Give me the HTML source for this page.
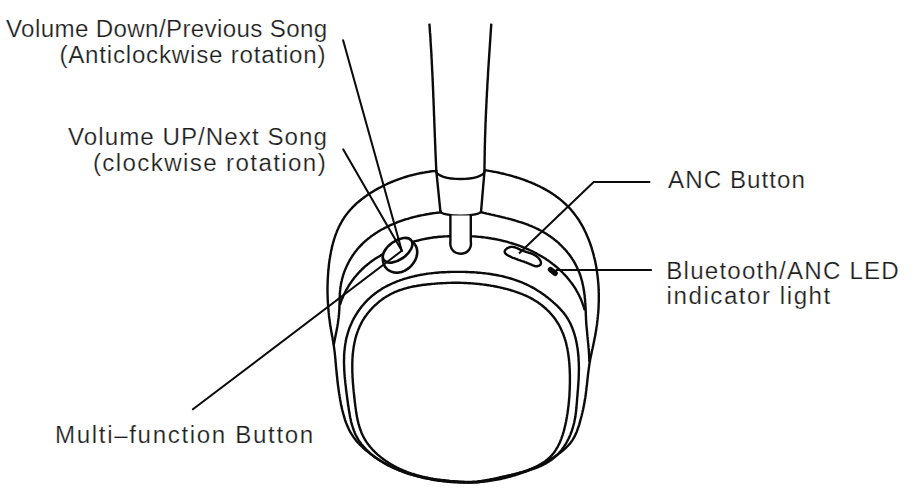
<!DOCTYPE html>
<html><head><meta charset="utf-8"><style>
html,body{margin:0;padding:0;background:#fff;width:920px;height:492px;overflow:hidden;}
svg{display:block;}
text{font-family:"Liberation Sans",sans-serif;font-size:23.0px;fill:#1e1e1e;stroke:#fff;stroke-width:0.2px;}
</style></head><body>
<svg width="920" height="492" viewBox="0 0 920 492">
<rect width="920" height="492" fill="#fff"/>
<g fill="none" stroke="#0b0b0b" stroke-width="2.4" stroke-linecap="round" stroke-linejoin="round">
<path d="M429.4,23.6 L429.5,25.1 L429.6,26.6 L429.7,28.1 L429.8,29.7 L429.9,31.2 L430.0,32.7 L430.2,34.2 L430.3,35.7 L430.4,37.2 L430.5,38.8 L430.5,40.3 L430.6,41.8 L430.7,43.3 L430.8,44.8 L430.9,46.3 L431.0,47.9 L431.1,49.4 L431.2,50.9 L431.3,52.4 L431.4,53.9 L431.4,55.4 L431.5,57.0 L431.6,58.5 L431.7,60.0 L431.8,61.5 L431.8,63.0 L431.9,64.5 L432.0,66.1 L432.1,67.6 L432.1,69.1 L432.2,70.6 L432.3,72.1 L432.4,73.6 L432.4,75.2 L432.5,76.7 L432.6,78.2 L432.6,79.7 L432.7,81.2 L432.8,82.8 L432.8,84.3 L432.9,85.8 L433.0,87.3 L433.0,88.8 L433.1,90.3 L433.2,91.9 L433.2,93.4 L433.3,94.9 L433.3,96.4 L433.4,97.9 L433.5,99.4 L433.5,101.0 L433.6,102.5 L433.6,104.0 L433.7,105.5 L433.8,107.0 L433.8,108.6 L433.9,110.1 L433.9,111.6 L434.0,113.1 L434.0,114.6 L434.1,116.2 L434.2,117.7 L434.2,119.2 L434.3,120.7 L434.3,122.2 L434.4,123.7 L434.4,125.3 L434.5,126.8 L434.6,128.3 L434.6,129.8 L434.7,131.3 L434.7,132.9 L434.8,134.4 L434.8,135.9 L434.9,137.4 L435.0,138.9 L435.0,140.4 L435.1,142.0 L435.1,143.5 L435.2,145.0 L435.3,146.5 L435.3,148.0 L435.4,149.6 L435.4,151.1 L435.5,152.6 L435.6,154.1 L435.6,155.6 L435.7,157.1 L435.8,158.7 L435.8,160.2 L435.9,161.7 L436.0,163.2 L436.0,164.7 L436.1,166.2 L436.2,167.8 L436.2,169.3 L436.3,170.8" stroke-linecap="butt"/>
<path d="M491.3,23.6 L491.2,25.1 L491.1,26.6 L491.0,28.1 L490.9,29.7 L490.8,31.2 L490.7,32.7 L490.6,34.2 L490.5,35.7 L490.4,37.2 L490.3,38.8 L490.2,40.3 L490.1,41.8 L490.0,43.3 L489.9,44.8 L489.8,46.3 L489.7,47.9 L489.6,49.4 L489.5,50.9 L489.4,52.4 L489.3,53.9 L489.2,55.4 L489.1,57.0 L489.0,58.5 L488.9,60.0 L488.8,61.5 L488.7,63.0 L488.6,64.5 L488.5,66.1 L488.4,67.6 L488.3,69.1 L488.2,70.6 L488.1,72.1 L488.0,73.6 L488.0,75.2 L487.9,76.7 L487.8,78.2 L487.7,79.7 L487.6,81.2 L487.5,82.7 L487.4,84.3 L487.3,85.8 L487.3,87.3 L487.2,88.8 L487.1,90.3 L487.0,91.8 L486.9,93.4 L486.9,94.9 L486.8,96.4 L486.7,97.9 L486.6,99.4 L486.5,100.9 L486.5,102.5 L486.4,104.0 L486.3,105.5 L486.3,107.0 L486.2,108.5 L486.1,110.0 L486.0,111.6 L486.0,113.1 L485.9,114.6 L485.8,116.1 L485.8,117.6 L485.7,119.2 L485.7,120.7 L485.6,122.2 L485.5,123.7 L485.5,125.2 L485.4,126.7 L485.4,128.3 L485.3,129.8 L485.3,131.3 L485.2,132.8 L485.2,134.3 L485.1,135.9 L485.1,137.4 L485.0,138.9 L485.0,140.4 L485.0,141.9 L484.9,143.5 L484.9,145.0 L484.8,146.5 L484.8,148.0 L484.8,149.5 L484.7,151.0 L484.7,152.6 L484.7,154.1 L484.7,155.6 L484.6,157.1 L484.6,158.6 L484.6,160.2 L484.6,161.7 L484.6,163.2 L484.5,164.7 L484.5,166.2 L484.5,167.8 L484.5,169.3 L484.5,170.8" stroke-linecap="butt"/>
<path d="M436.3,170.8 L434.8,171.0 L433.3,171.1 L431.7,171.3 L430.2,171.5 L428.7,171.8 L427.2,172.0 L425.7,172.2 L424.3,172.5 L422.8,172.7 L421.3,173.0 L419.8,173.3 L418.4,173.6 L416.9,173.9 L415.5,174.3 L414.0,174.6 L412.6,175.0 L411.1,175.3 L409.7,175.7 L408.3,176.1 L406.9,176.5 L405.4,177.0 L404.0,177.4 L402.6,177.9 L401.2,178.3 L399.8,178.8 L398.4,179.3 L397.0,179.8 L395.6,180.4 L394.3,180.9 L392.9,181.5 L391.5,182.0 L390.1,182.6 L388.7,183.2 L387.4,183.8 L386.0,184.5 L384.6,185.1 L383.3,185.8 L381.9,186.5 L380.6,187.2 L379.2,187.9 L377.9,188.6 L376.5,189.4 L375.2,190.1 L373.9,190.9 L372.6,191.7 L371.3,192.5 L370.0,193.3 L368.7,194.1 L367.4,195.0 L366.2,195.9 L364.9,196.8 L363.7,197.7 L362.5,198.6 L361.3,199.5 L360.1,200.5 L358.9,201.5 L357.8,202.4 L356.6,203.4 L355.5,204.5 L354.4,205.5 L353.3,206.6 L352.3,207.6 L351.3,208.7 L350.3,209.8 L349.3,211.0 L348.3,212.1 L347.4,213.3 L346.5,214.4 L345.6,215.6 L344.7,216.8 L343.9,218.1 L343.1,219.3 L342.3,220.6 L341.6,221.9 L340.9,223.1 L340.2,224.4 L339.5,225.8 L338.8,227.1 L338.2,228.5 L337.6,229.8 L337.0,231.2 L336.5,232.6 L335.9,234.0 L335.4,235.4 L334.9,236.8 L334.5,238.2 L334.0,239.6 L333.6,241.1 L333.2,242.5 L332.8,244.0 L332.4,245.5 L332.0,246.9 L331.7,248.4 L331.4,249.9 L331.0,251.4 L330.8,252.9 L330.5,254.4 L330.2,255.9 L330.0,257.4 L329.7,258.9 L329.5,260.4 L329.3,261.9 L329.1,263.4 L328.9,264.9 L328.8,266.5 L328.6,268.0 L328.5,269.5 L328.3,271.0 L328.2,272.5 L328.1,274.0 L328.0,275.5 L327.9,277.0 L327.8,278.5 L327.7,280.0 L327.7,281.5 L327.6,283.0 L327.6,284.6 L327.5,286.1 L327.5,287.6 L327.5,289.0 L327.5,290.5 L327.5,292.0 L327.5,293.5 L327.6,295.0 L327.6,296.5 L327.7,298.0 L327.7,299.5 L327.8,301.0 L327.9,302.5 L328.0,304.0 L328.1,305.5 L328.2,307.0 L328.3,308.5 L328.4,310.0 L328.6,311.4 L328.7,312.9 L328.9,314.4 L329.0,315.9 L329.2,317.4 L329.4,318.9 L329.6,320.4 L329.8,321.9 L330.0,323.3 L330.2,324.8 L330.4,326.3 L330.7,327.8 L330.9,329.3 L331.2,330.8 L331.5,332.3 L331.7,333.8 L332.0,335.2 L332.3,336.7 L332.6,338.2 L332.8,339.7 L333.1,341.2 L333.3,342.7 L333.6,344.2 L333.8,345.7 L334.0,347.2 L334.2,348.7 L334.4,350.2 L334.6,351.6 L334.8,353.1 L334.9,354.6 L335.1,356.1 L335.2,357.6 L335.4,359.1 L335.5,360.6 L335.6,362.1 L335.8,363.6 L335.9,365.1 L336.0,366.6 L336.2,368.1 L336.3,369.6 L336.5,371.1 L336.6,372.6 L336.7,374.0 L336.9,375.5 L337.1,377.0 L337.2,378.5 L337.4,380.0 L337.5,381.5 L337.7,383.0 L337.9,384.5 L338.1,386.0 L338.3,387.4 L338.5,388.9 L338.7,390.4 L338.9,391.9 L339.1,393.4 L339.4,394.9 L339.6,396.4 L339.9,397.9 L340.1,399.4 L340.4,400.9 L340.7,402.4 L340.9,403.9 L341.2,405.4 L341.6,406.9 L341.9,408.4 L342.2,409.8 L342.6,411.3 L343.0,412.8 L343.4,414.3 L343.8,415.7 L344.2,417.2 L344.7,418.6 L345.1,420.1 L345.6,421.5 L346.1,422.9 L346.7,424.3 L347.3,425.7 L347.9,427.1 L348.5,428.4 L349.1,429.8 L349.8,431.1 L350.5,432.4 L351.3,433.7 L352.1,434.9 L352.9,436.2 L353.7,437.4 L354.6,438.6 L355.5,439.8 L356.5,441.0 L357.5,442.1 L358.5,443.2 L359.5,444.3 L360.6,445.4 L361.7,446.4 L362.8,447.5 L363.9,448.5 L365.0,449.5 L366.2,450.5 L367.3,451.4 L368.5,452.4 L369.7,453.3 L370.8,454.2 L372.0,455.1 L373.2,456.0 L374.5,456.9 L375.7,457.7 L376.9,458.6 L378.2,459.4 L379.4,460.2 L380.7,461.0 L382.0,461.7 L383.3,462.5 L384.6,463.2 L385.9,463.9 L387.2,464.7 L388.5,465.3 L389.9,466.0 L391.2,466.7 L392.6,467.3 L393.9,468.0 L395.3,468.6 L396.7,469.2 L398.1,469.8 L399.4,470.4 L400.8,470.9 L402.2,471.5 L403.6,472.0 L405.1,472.5 L406.5,473.0 L407.9,473.5 L409.3,474.0 L410.8,474.4 L412.2,474.9 L413.7,475.3 L415.1,475.7 L416.6,476.1 L418.0,476.5 L419.5,476.9 L421.0,477.3 L422.4,477.6 L423.9,478.0 L425.4,478.3 L426.9,478.6 L428.4,478.9 L429.8,479.2 L431.3,479.5 L432.8,479.8 L434.3,480.0 L435.8,480.3 L437.3,480.5 L438.8,480.7 L440.3,480.9 L441.8,481.1 L443.3,481.3 L444.8,481.5 L446.3,481.6 L447.8,481.8 L449.3,481.9 L450.8,482.0 L452.3,482.1 L453.8,482.2 L455.3,482.3 L456.8,482.4 L458.3,482.5 L459.9,482.5 L461.4,482.5 L462.9,482.6 L464.4,482.6 L465.9,482.6 L467.4,482.6 L468.9,482.5 L470.4,482.5 L471.9,482.4 L473.4,482.4 L474.9,482.3 L476.4,482.2 L477.9,482.1 L479.4,482.0 L480.9,481.8 L482.4,481.7 L483.9,481.5 L485.4,481.4 L486.9,481.2 L488.4,481.0 L489.9,480.8 L491.3,480.6 L492.8,480.3 L494.3,480.1 L495.8,479.8 L497.3,479.6 L498.7,479.3 L500.2,479.0 L501.7,478.7 L503.1,478.3 L504.6,478.0 L506.0,477.6 L507.5,477.3 L508.9,476.9 L510.4,476.5 L511.8,476.1 L513.3,475.7 L514.7,475.3 L516.1,474.8 L517.6,474.4 L519.0,473.9 L520.4,473.4 L521.8,472.9 L523.2,472.4 L524.6,471.9 L526.0,471.3 L527.4,470.8 L528.8,470.2 L530.2,469.6 L531.6,469.0 L533.0,468.4 L534.3,467.8 L535.7,467.2 L537.1,466.5 L538.4,465.9 L539.8,465.2 L541.1,464.5 L542.5,463.8 L543.8,463.1 L545.1,462.4 L546.4,461.6 L547.7,460.9 L549.0,460.1 L550.3,459.3 L551.6,458.5 L552.9,457.7 L554.2,456.9 L555.5,456.0 L556.7,455.2 L558.0,454.3 L559.2,453.4 L560.4,452.5 L561.6,451.6 L562.8,450.6 L563.9,449.6 L565.1,448.6 L566.1,447.6 L567.2,446.5 L568.2,445.5 L569.2,444.4 L570.2,443.2 L571.1,442.1 L571.9,440.9 L572.8,439.6 L573.5,438.3 L574.3,437.0 L574.9,435.7 L575.6,434.4 L576.2,433.0 L576.8,431.6 L577.3,430.2 L577.8,428.7 L578.3,427.3 L578.8,425.8 L579.3,424.4 L579.7,422.9 L580.1,421.4 L580.5,419.9 L580.9,418.4 L581.3,417.0 L581.7,415.5 L582.0,414.0 L582.4,412.5 L582.7,411.0 L583.1,409.6 L583.4,408.1 L583.7,406.6 L584.0,405.1 L584.3,403.6 L584.5,402.1 L584.8,400.6 L585.0,399.2 L585.3,397.7 L585.5,396.2 L585.7,394.7 L585.9,393.2 L586.1,391.7 L586.3,390.2 L586.4,388.7 L586.6,387.2 L586.8,385.7 L587.0,384.3 L587.1,382.8 L587.3,381.3 L587.4,379.8 L587.6,378.3 L587.8,376.8 L587.9,375.3 L588.1,373.8 L588.3,372.4 L588.5,370.9 L588.7,369.4 L588.9,367.9 L589.1,366.4 L589.3,365.0 L589.5,363.5 L589.8,362.0 L590.0,360.5 L590.3,359.1 L590.6,357.6 L590.9,356.1 L591.2,354.7 L591.5,353.2 L591.8,351.7 L592.1,350.3 L592.5,348.8 L592.8,347.3 L593.1,345.9 L593.4,344.4 L593.7,342.9 L594.0,341.4 L594.3,340.0 L594.6,338.5 L594.9,337.0 L595.2,335.5 L595.5,334.1 L595.7,332.6 L596.0,331.1 L596.2,329.6 L596.4,328.1 L596.6,326.6 L596.9,325.2 L597.1,323.7 L597.2,322.2 L597.4,320.7 L597.6,319.2 L597.7,317.7 L597.9,316.2 L598.0,314.7 L598.2,313.2 L598.3,311.7 L598.4,310.2 L598.5,308.7 L598.6,307.2 L598.6,305.7 L598.7,304.2 L598.7,302.7 L598.8,301.2 L598.8,299.7 L598.8,298.2 L598.8,296.7 L598.8,295.2 L598.8,293.7 L598.7,292.2 L598.7,290.7 L598.6,289.2 L598.6,287.6 L598.5,286.1 L598.4,284.6 L598.3,283.1 L598.1,281.6 L598.0,280.1 L597.9,278.6 L597.7,277.1 L597.5,275.6 L597.3,274.1 L597.1,272.6 L596.9,271.1 L596.7,269.6 L596.4,268.1 L596.2,266.6 L595.9,265.1 L595.6,263.6 L595.3,262.1 L595.0,260.6 L594.7,259.2 L594.3,257.7 L593.9,256.2 L593.6,254.7 L593.2,253.3 L592.8,251.8 L592.3,250.3 L591.9,248.9 L591.5,247.4 L591.0,246.0 L590.5,244.5 L590.0,243.1 L589.5,241.7 L588.9,240.3 L588.4,238.9 L587.8,237.5 L587.2,236.1 L586.6,234.7 L586.0,233.3 L585.4,232.0 L584.7,230.6 L584.1,229.3 L583.4,227.9 L582.7,226.6 L582.0,225.3 L581.2,224.0 L580.5,222.8 L579.7,221.5 L578.9,220.2 L578.1,219.0 L577.2,217.8 L576.4,216.6 L575.5,215.4 L574.6,214.2 L573.7,213.0 L572.8,211.9 L571.8,210.7 L570.9,209.6 L569.9,208.5 L568.9,207.4 L567.9,206.3 L566.8,205.3 L565.8,204.3 L564.7,203.3 L563.6,202.3 L562.5,201.3 L561.3,200.3 L560.2,199.4 L559.0,198.5 L557.8,197.5 L556.6,196.7 L555.4,195.8 L554.2,194.9 L552.9,194.1 L551.7,193.3 L550.4,192.4 L549.1,191.6 L547.8,190.9 L546.5,190.1 L545.2,189.4 L543.8,188.6 L542.5,187.9 L541.1,187.2 L539.8,186.5 L538.4,185.9 L537.0,185.2 L535.6,184.6 L534.2,183.9 L532.8,183.3 L531.4,182.7 L529.9,182.1 L528.5,181.6 L527.1,181.0 L525.6,180.5 L524.2,179.9 L522.7,179.4 L521.3,178.9 L519.8,178.4 L518.4,177.9 L516.9,177.5 L515.4,177.0 L514.0,176.6 L512.5,176.1 L511.0,175.7 L509.6,175.3 L508.1,174.9 L506.6,174.6 L505.1,174.2 L503.7,173.8 L502.2,173.5 L500.7,173.2 L499.3,172.8 L497.8,172.5 L496.4,172.2 L494.9,171.9 L493.5,171.7 L492.0,171.4 L490.6,171.1 L489.2,170.9 L487.7,170.6 L486.3,170.4 L484.9,170.2"/>
<path d="M440.2,212.4 L438.8,212.6 L437.3,212.7 L435.9,212.9 L434.4,213.1 L432.9,213.3 L431.5,213.5 L430.0,213.7 L428.5,214.0 L427.0,214.2 L425.5,214.5 L424.1,214.8 L422.6,215.1 L421.1,215.4 L419.6,215.7 L418.1,216.0 L416.6,216.4 L415.1,216.7 L413.6,217.1 L412.2,217.5 L410.7,217.9 L409.2,218.3 L407.7,218.8 L406.2,219.2 L404.8,219.7 L403.3,220.2 L401.9,220.7 L400.4,221.2 L399.0,221.7 L397.5,222.2 L396.1,222.8 L394.7,223.4 L393.2,224.0 L391.8,224.6 L390.4,225.2 L389.0,225.8 L387.7,226.5 L386.3,227.2 L384.9,227.9 L383.6,228.6 L382.2,229.3 L380.9,230.0 L379.6,230.8 L378.3,231.6 L377.0,232.4 L375.7,233.2 L374.5,234.0 L373.2,234.9 L372.0,235.8 L370.8,236.6 L369.6,237.6 L368.4,238.5 L367.3,239.4 L366.1,240.4 L365.0,241.4 L363.9,242.4 L362.8,243.4 L361.8,244.5 L360.7,245.5 L359.7,246.6 L358.7,247.7 L357.7,248.8 L356.8,250.0 L355.8,251.2 L354.9,252.3 L354.0,253.6 L353.2,254.8 L352.3,256.0 L351.5,257.3 L350.7,258.6 L349.9,259.9 L349.2,261.2 L348.5,262.5 L347.8,263.9 L347.1,265.2 L346.5,266.6 L345.9,268.0 L345.3,269.4 L344.7,270.8 L344.2,272.2 L343.7,273.7 L343.2,275.1 L342.8,276.5 L342.4,278.0 L342.0,279.5 L341.7,281.0 L341.3,282.4 L341.0,283.9 L340.8,285.4 L340.5,286.9 L340.3,288.4 L340.2,289.9 L340.0,291.4 L339.9,293.0 L339.8,294.5 L339.8,296.0 L339.7,297.5 L339.6,299.0 L339.6,300.6 L339.6,302.1 L339.5,303.6 L339.5,305.1 L339.4,306.6 L339.4,308.2 L339.3,309.7 L339.2,311.2 L339.1,312.7 L339.0,314.2 L338.8,315.7 L338.7,317.2 L338.5,318.7 L338.3,320.2 L338.1,321.7 L337.9,323.2 L337.6,324.7 L337.4,326.2 L337.1,327.7 L336.9,329.1 L336.6,330.6 L336.3,332.1 L336.0,333.6 L335.7,335.1 L335.4,336.6 L335.1,338.1 L334.8,339.5 L334.5,341.0 L334.2,342.5 L333.9,344.0"/>
<path d="M481.0,212.2 L482.4,212.5 L483.9,212.9 L485.4,213.2 L486.8,213.6 L488.3,213.9 L489.8,214.2 L491.2,214.6 L492.7,214.9 L494.2,215.2 L495.6,215.6 L497.1,215.9 L498.6,216.3 L500.1,216.6 L501.6,217.0 L503.0,217.3 L504.5,217.7 L506.0,218.1 L507.5,218.4 L508.9,218.8 L510.4,219.2 L511.9,219.6 L513.3,220.0 L514.8,220.4 L516.3,220.9 L517.7,221.3 L519.2,221.8 L520.6,222.2 L522.0,222.7 L523.5,223.2 L524.9,223.7 L526.3,224.2 L527.8,224.7 L529.2,225.3 L530.6,225.8 L532.0,226.4 L533.3,227.0 L534.7,227.6 L536.1,228.3 L537.5,228.9 L538.8,229.6 L540.1,230.3 L541.5,231.0 L542.8,231.7 L544.1,232.5 L545.4,233.3 L546.7,234.1 L548.0,234.9 L549.2,235.7 L550.5,236.6 L551.7,237.5 L552.9,238.4 L554.1,239.3 L555.3,240.3 L556.5,241.2 L557.6,242.2 L558.8,243.2 L559.9,244.3 L561.0,245.3 L562.0,246.4 L563.1,247.5 L564.1,248.6 L565.2,249.7 L566.2,250.8 L567.1,252.0 L568.1,253.2 L569.0,254.3 L569.9,255.5 L570.8,256.8 L571.7,258.0 L572.5,259.3 L573.3,260.5 L574.1,261.8 L574.8,263.1 L575.5,264.4 L576.2,265.8 L576.9,267.1 L577.5,268.5 L578.2,269.8 L578.7,271.2 L579.3,272.6 L579.8,274.0 L580.3,275.4 L580.8,276.9 L581.2,278.3 L581.6,279.8 L582.0,281.2 L582.4,282.7 L582.7,284.2 L583.0,285.6 L583.3,287.1 L583.6,288.6 L583.8,290.1 L584.1,291.6 L584.3,293.1 L584.5,294.6 L584.7,296.2 L584.8,297.7 L585.0,299.2 L585.1,300.7 L585.2,302.2 L585.4,303.7 L585.4,305.2 L585.5,306.8 L585.6,308.3 L585.7,309.8 L585.7,311.3 L585.8,312.8 L585.8,314.3 L585.9,315.8 L586.0,317.3 L586.0,318.8 L586.1,320.3 L586.2,321.8 L586.3,323.3 L586.4,324.8 L586.5,326.3 L586.7,327.8 L586.8,329.3 L587.0,330.8 L587.1,332.3 L587.2,333.8 L587.4,335.3 L587.5,336.9 L587.7,338.4 L587.8,339.9 L588.0,341.4 L588.1,342.9 L588.3,344.4 L588.4,345.9 L588.5,347.4 L588.7,348.9 L588.8,350.4 L588.9,351.9 L589.0,353.4 L589.1,354.9 L589.2,356.4 L589.2,358.0 L589.3,359.5 L589.3,361.0"/>
<path d="M449.7,236.3 L448.2,236.3 L446.7,236.4 L445.1,236.4 L443.6,236.5 L442.1,236.6 L440.6,236.7 L439.1,236.8 L437.5,237.0 L436.0,237.2 L434.5,237.3 L433.0,237.5 L431.5,237.8 L430.0,238.0 L428.5,238.2 L427.0,238.5 L425.5,238.8 L424.0,239.1 L422.5,239.4 L421.0,239.7 L419.6,240.1 L418.1,240.5 L416.6,240.8 L415.1,241.2 L413.7,241.6 L412.2,242.1 L410.7,242.5 L409.3,243.0 L407.8,243.4 L406.4,243.9 L404.9,244.4 L403.5,244.9 L402.1,245.5 L400.6,246.0 L399.2,246.6 L397.8,247.1 L396.4,247.7 L394.9,248.3 L393.5,248.9 L392.1,249.6 L390.7,250.2 L389.4,250.9 L388.0,251.5 L386.6,252.2 L385.3,252.9 L383.9,253.6 L382.6,254.4 L381.2,255.1 L379.9,255.9 L378.6,256.7 L377.3,257.5 L376.0,258.3 L374.8,259.1 L373.5,260.0 L372.3,260.8 L371.0,261.7 L369.8,262.6 L368.6,263.6 L367.4,264.5 L366.3,265.5 L365.1,266.4 L364.0,267.5 L362.9,268.5 L361.8,269.5 L360.8,270.6 L359.7,271.7 L358.7,272.8 L357.7,273.9 L356.7,275.0 L355.7,276.2 L354.7,277.3 L353.8,278.5 L352.9,279.7 L352.0,280.9 L351.1,282.2 L350.3,283.4 L349.4,284.7 L348.6,286.0 L347.9,287.3 L347.1,288.6 L346.3,289.9 L345.6,291.3 L344.9,292.6 L344.3,294.0 L343.6,295.4 L343.0,296.8 L342.4,298.2 L341.8,299.6 L341.2,301.1 L340.7,302.5 L340.2,304.0"/>
<path d="M470.8,236.3 L472.3,236.4 L473.7,236.4 L475.2,236.5 L476.7,236.6 L478.2,236.8 L479.7,236.9 L481.2,237.0 L482.7,237.2 L484.2,237.4 L485.6,237.6 L487.1,237.8 L488.6,238.0 L490.1,238.2 L491.6,238.5 L493.1,238.7 L494.6,239.0 L496.1,239.3 L497.6,239.6 L499.1,239.9 L500.6,240.2 L502.1,240.6 L503.6,241.0 L505.1,241.3 L506.6,241.7 L508.0,242.1 L509.5,242.6 L511.0,243.0 L512.5,243.5 L513.9,243.9 L515.4,244.4 L516.8,244.9 L518.3,245.4 L519.7,245.9 L521.2,246.5 L522.6,247.0 L524.0,247.6 L525.4,248.2 L526.8,248.8 L528.2,249.4 L529.6,250.0 L531.0,250.7 L532.4,251.4 L533.7,252.0 L535.1,252.7 L536.5,253.4 L537.8,254.2 L539.1,254.9 L540.4,255.7 L541.7,256.4 L543.0,257.2 L544.3,258.0 L545.6,258.8 L546.8,259.7 L548.1,260.5 L549.3,261.4 L550.5,262.3 L551.8,263.2 L552.9,264.1 L554.1,265.0 L555.3,266.0 L556.4,266.9 L557.6,267.9 L558.7,268.9 L559.8,269.9 L560.9,270.9 L562.0,272.0 L563.0,273.0 L564.0,274.1 L565.1,275.2 L566.1,276.3 L567.1,277.4 L568.0,278.5 L569.0,279.7 L569.9,280.9 L570.8,282.1 L571.7,283.3 L572.6,284.5 L573.4,285.7 L574.3,287.0 L575.1,288.2 L575.9,289.5 L576.6,290.8 L577.4,292.2 L578.1,293.5 L578.8,294.8 L579.5,296.2 L580.1,297.6 L580.8,299.0 L581.4,300.4 L581.9,301.9 L582.5,303.3 L583.0,304.8 L583.6,306.3 L584.0,307.8 L584.5,309.3"/>
<path d="M465.0,482.3 L463.5,482.2 L462.0,482.1 L460.5,482.0 L459.0,481.9 L457.5,481.8 L456.0,481.7 L454.5,481.6 L453.0,481.5 L451.5,481.4 L450.0,481.2 L448.5,481.1 L447.0,480.9 L445.5,480.8 L444.0,480.6 L442.5,480.5 L441.1,480.3 L439.6,480.1 L438.1,479.9 L436.6,479.7 L435.1,479.5 L433.6,479.3 L432.1,479.0 L430.6,478.8 L429.1,478.5 L427.6,478.3 L426.1,478.0 L424.7,477.7 L423.2,477.4 L421.7,477.1 L420.2,476.7 L418.8,476.4 L417.3,476.1 L415.9,475.7 L414.4,475.3 L413.0,474.9 L411.5,474.5 L410.1,474.1 L408.6,473.7 L407.2,473.2 L405.8,472.7 L404.4,472.2 L402.9,471.7 L401.5,471.2 L400.1,470.7 L398.7,470.1 L397.4,469.6 L396.0,469.0 L394.6,468.4 L393.2,467.8 L391.9,467.1 L390.5,466.5 L389.2,465.8 L387.8,465.1 L386.5,464.4 L385.2,463.6 L383.9,462.9 L382.5,462.1 L381.2,461.3 L380.0,460.5 L378.7,459.6 L377.4,458.8 L376.2,457.9 L374.9,457.0 L373.7,456.0 L372.5,455.1 L371.3,454.1 L370.1,453.1 L369.0,452.1 L367.9,451.1 L366.8,450.0 L365.7,448.9 L364.7,447.8 L363.6,446.7 L362.7,445.6 L361.7,444.4 L360.8,443.2 L359.9,442.0 L359.1,440.8 L358.3,439.6 L357.6,438.3 L356.9,437.1 L356.2,435.8 L355.5,434.5 L354.9,433.1 L354.4,431.8 L353.8,430.4 L353.3,429.0 L352.9,427.6 L352.4,426.2 L352.0,424.8 L351.6,423.4 L351.2,422.0 L350.9,420.5 L350.6,419.1 L350.2,417.6 L349.9,416.1 L349.7,414.6 L349.4,413.1 L349.2,411.6 L348.9,410.1 L348.7,408.6 L348.5,407.1 L348.2,405.6 L348.0,404.1 L347.8,402.5 L347.6,401.0 L347.4,399.5 L347.2,398.0 L347.0,396.5 L346.8,394.9 L346.6,393.4 L346.4,391.9 L346.2,390.4 L346.0,388.8 L345.9,387.3 L345.7,385.8 L345.5,384.3 L345.3,382.7 L345.2,381.2 L345.0,379.7 L344.9,378.2 L344.7,376.7 L344.6,375.2 L344.5,373.6 L344.4,372.1 L344.3,370.6 L344.2,369.1 L344.2,367.6 L344.1,366.1 L344.1,364.6 L344.0,363.1 L344.0,361.6 L344.0,360.1 L344.1,358.6 L344.1,357.1 L344.1,355.6 L344.2,354.2 L344.3,352.7 L344.4,351.2 L344.6,349.7 L344.7,348.3 L344.9,346.8 L345.1,345.3 L345.3,343.9 L345.6,342.4 L345.8,341.0 L346.1,339.5 L346.4,338.1 L346.8,336.7 L347.2,335.2 L347.6,333.8 L348.0,332.4 L348.4,331.0 L348.9,329.6 L349.4,328.1 L350.0,326.7 L350.6,325.3 L351.2,324.0 L351.8,322.6 L352.4,321.2 L353.1,319.9 L353.8,318.5 L354.6,317.2 L355.3,315.9 L356.1,314.6 L356.9,313.3 L357.7,312.0 L358.6,310.7 L359.5,309.5 L360.4,308.2 L361.3,307.0 L362.3,305.8 L363.3,304.7 L364.3,303.5 L365.3,302.4 L366.3,301.3 L367.4,300.2 L368.5,299.1 L369.6,298.1 L370.7,297.1 L371.8,296.1 L373.0,295.1 L374.2,294.2 L375.3,293.3 L376.6,292.4 L377.8,291.5 L379.0,290.7 L380.3,289.9 L381.6,289.1 L382.8,288.3 L384.1,287.5 L385.5,286.8 L386.8,286.1 L388.1,285.4 L389.5,284.8 L390.8,284.1 L392.2,283.5 L393.6,282.9 L395.0,282.3 L396.4,281.7 L397.8,281.2 L399.2,280.7 L400.6,280.1 L402.1,279.7 L403.5,279.2 L404.9,278.7 L406.4,278.3 L407.8,277.9 L409.3,277.5 L410.7,277.1 L412.2,276.7 L413.7,276.4 L415.1,276.0 L416.6,275.7 L418.0,275.4 L419.5,275.1 L421.0,274.8 L422.5,274.6 L423.9,274.3 L425.4,274.1 L426.9,273.8 L428.4,273.6 L429.9,273.4 L431.4,273.3 L432.9,273.1 L434.3,272.9 L435.8,272.8 L437.3,272.7 L438.8,272.5 L440.3,272.4 L441.8,272.3 L443.3,272.2 L444.8,272.2 L446.3,272.1 L447.8,272.0 L449.3,272.0 L450.8,271.9 L452.4,271.9 L453.9,271.9 L455.4,271.9 L456.9,271.9 L458.4,271.9 L459.9,271.9 L461.4,271.9 L462.9,271.9 L464.5,271.9 L466.0,272.0 L467.5,272.0 L469.0,272.1 L470.5,272.2 L472.0,272.2 L473.6,272.3 L475.1,272.4 L476.6,272.5 L478.1,272.7 L479.6,272.8 L481.1,272.9 L482.6,273.1 L484.1,273.2 L485.6,273.4 L487.1,273.6 L488.6,273.8 L490.1,274.0 L491.6,274.2 L493.1,274.5 L494.6,274.7 L496.0,275.0 L497.5,275.3 L499.0,275.6 L500.5,275.9 L501.9,276.2 L503.4,276.5 L504.8,276.9 L506.3,277.3 L507.7,277.7 L509.2,278.1 L510.6,278.5 L512.0,278.9 L513.5,279.4 L514.9,279.8 L516.3,280.3 L517.7,280.8 L519.1,281.3 L520.5,281.9 L521.9,282.4 L523.3,283.0 L524.6,283.6 L526.0,284.2 L527.3,284.9 L528.7,285.5 L530.0,286.2 L531.4,286.9 L532.7,287.6 L534.0,288.3 L535.3,289.1 L536.6,289.9 L537.9,290.7 L539.1,291.5 L540.4,292.3 L541.7,293.2 L542.9,294.0 L544.2,294.9 L545.4,295.8 L546.6,296.8 L547.8,297.7 L549.0,298.7 L550.2,299.6 L551.3,300.6 L552.5,301.6 L553.6,302.6 L554.8,303.6 L555.9,304.7 L557.0,305.7 L558.1,306.8 L559.2,307.9 L560.2,309.0 L561.2,310.1 L562.2,311.2 L563.2,312.3 L564.1,313.5 L565.0,314.7 L565.9,315.9 L566.7,317.1 L567.5,318.4 L568.3,319.7 L569.0,321.0 L569.7,322.3 L570.4,323.6 L571.0,324.9 L571.6,326.3 L572.2,327.7 L572.7,329.1 L573.2,330.5 L573.7,331.9 L574.2,333.3 L574.6,334.7 L575.0,336.2 L575.4,337.6 L575.8,339.1 L576.1,340.5 L576.4,342.0 L576.7,343.5 L577.0,345.0 L577.2,346.5 L577.5,348.0 L577.7,349.5 L577.9,351.0 L578.0,352.5 L578.2,354.0 L578.3,355.5 L578.5,357.0 L578.6,358.5 L578.6,360.0 L578.7,361.5 L578.8,363.0 L578.8,364.6 L578.9,366.1 L578.9,367.6 L578.9,369.1 L578.9,370.6 L578.8,372.2 L578.8,373.7 L578.8,375.2 L578.7,376.7 L578.7,378.2 L578.6,379.7 L578.5,381.2 L578.4,382.7 L578.3,384.2 L578.2,385.7 L578.1,387.2 L578.0,388.6 L577.9,390.1 L577.7,391.6 L577.6,393.1 L577.5,394.6 L577.4,396.1 L577.2,397.6 L577.1,399.1 L577.0,400.5 L576.9,402.0 L576.8,403.5 L576.6,405.0 L576.5,406.5 L576.4,408.0 L576.2,409.6 L576.1,411.1 L575.9,412.6 L575.7,414.1 L575.5,415.6 L575.3,417.1 L575.0,418.6 L574.7,420.1 L574.4,421.5 L574.1,423.0 L573.7,424.5 L573.3,426.0 L572.9,427.5 L572.4,428.9 L572.0,430.4 L571.5,431.8 L570.9,433.2 L570.4,434.6 L569.8,436.0 L569.2,437.4 L568.5,438.8 L567.8,440.1 L567.1,441.5 L566.4,442.8 L565.6,444.1 L564.8,445.3 L564.0,446.6 L563.2,447.8 L562.3,449.0 L561.4,450.2 L560.5,451.3 L559.5,452.4 L558.5,453.5 L557.5,454.6 L556.4,455.6 L555.4,456.6 L554.2,457.6 L553.1,458.5 L552.0,459.4 L550.8,460.2 L549.5,461.1 L548.3,461.9 L547.0,462.6 L545.8,463.4 L544.4,464.1 L543.1,464.8 L541.8,465.4 L540.4,466.1 L539.0,466.7 L537.6,467.3 L536.2,467.8 L534.8,468.4 L533.3,468.9 L531.9,469.4 L530.4,469.9 L528.9,470.4 L527.4,470.8 L525.9,471.3 L524.4,471.7 L522.9,472.1 L521.4,472.5 L519.9,472.9 L518.4,473.3 L516.9,473.7 L515.4,474.0 L513.8,474.4 L512.3,474.8 L510.8,475.1 L509.3,475.4 L507.8,475.8 L506.3,476.1 L504.8,476.5 L503.3,476.8 L501.8,477.2 L500.4,477.5 L498.9,477.9 L497.5,478.2 L496.0,478.6 L494.6,478.9 L493.2,479.3 L491.8,479.6 L490.3,479.9 L488.9,480.2 L487.5,480.5 L486.1,480.8 L484.7,481.1 L483.2,481.4 L481.8,481.6 L480.3,481.8 L478.9,482.0 L477.4,482.2 L475.9,482.3 L474.4,482.4 L472.9,482.5 L471.4,482.5 L469.8,482.5 L468.2,482.5 L466.6,482.4 L465.0,482.3"/>
<path d="M465.0,481.9 L463.5,481.8 L462.0,481.8 L460.5,481.7 L459.0,481.6 L457.5,481.5 L456.0,481.4 L454.5,481.3 L453.0,481.2 L451.5,481.1 L450.0,481.0 L448.5,480.8 L447.0,480.7 L445.5,480.5 L444.0,480.3 L442.5,480.2 L441.0,480.0 L439.5,479.8 L438.0,479.6 L436.5,479.4 L435.0,479.1 L433.6,478.9 L432.1,478.6 L430.6,478.4 L429.1,478.1 L427.6,477.8 L426.2,477.5 L424.7,477.2 L423.2,476.8 L421.8,476.5 L420.3,476.1 L418.9,475.7 L417.4,475.3 L416.0,474.9 L414.5,474.5 L413.1,474.0 L411.7,473.6 L410.2,473.1 L408.8,472.6 L407.4,472.1 L406.0,471.5 L404.6,471.0 L403.2,470.4 L401.9,469.8 L400.5,469.2 L399.1,468.5 L397.8,467.9 L396.4,467.2 L395.1,466.5 L393.7,465.8 L392.4,465.0 L391.1,464.3 L389.8,463.5 L388.5,462.7 L387.2,461.8 L385.9,461.0 L384.7,460.1 L383.4,459.2 L382.2,458.3 L381.0,457.3 L379.8,456.3 L378.6,455.3 L377.4,454.3 L376.3,453.3 L375.2,452.3 L374.1,451.2 L373.0,450.1 L372.0,449.0 L371.0,447.8 L370.0,446.7 L369.1,445.5 L368.1,444.3 L367.3,443.1 L366.4,441.9 L365.6,440.7 L364.9,439.4 L364.1,438.2 L363.5,436.9 L362.8,435.6 L362.2,434.3 L361.6,433.0 L361.1,431.6 L360.6,430.3 L360.1,428.9 L359.6,427.5 L359.2,426.1 L358.8,424.7 L358.4,423.3 L358.1,421.9 L357.7,420.4 L357.4,419.0 L357.1,417.5 L356.8,416.1 L356.6,414.6 L356.3,413.1 L356.1,411.6 L355.9,410.2 L355.7,408.7 L355.5,407.2 L355.3,405.6 L355.1,404.1 L354.9,402.6 L354.7,401.1 L354.6,399.6 L354.4,398.0 L354.2,396.5 L354.1,395.0 L353.9,393.4 L353.7,391.9 L353.6,390.3 L353.4,388.8 L353.3,387.2 L353.2,385.7 L353.0,384.1 L352.9,382.6 L352.8,381.1 L352.7,379.5 L352.6,378.0 L352.5,376.4 L352.5,374.9 L352.4,373.3 L352.3,371.8 L352.3,370.2 L352.3,368.7 L352.3,367.2 L352.3,365.6 L352.3,364.1 L352.3,362.6 L352.4,361.1 L352.4,359.6 L352.5,358.0 L352.6,356.5 L352.7,355.0 L352.9,353.5 L353.0,352.1 L353.2,350.6 L353.4,349.1 L353.6,347.6 L353.8,346.2 L354.1,344.7 L354.4,343.2 L354.7,341.8 L355.0,340.4 L355.3,338.9 L355.7,337.5 L356.1,336.1 L356.5,334.7 L357.0,333.3 L357.5,331.9 L358.0,330.6 L358.5,329.2 L359.1,327.9 L359.6,326.5 L360.3,325.2 L360.9,323.9 L361.6,322.6 L362.3,321.3 L363.0,320.0 L363.8,318.8 L364.6,317.5 L365.5,316.3 L366.4,315.1 L367.3,313.8 L368.2,312.7 L369.2,311.5 L370.2,310.3 L371.2,309.2 L372.2,308.1 L373.3,307.0 L374.4,305.9 L375.5,304.8 L376.7,303.8 L377.8,302.8 L379.0,301.8 L380.2,300.9 L381.5,299.9 L382.7,299.0 L384.0,298.1 L385.3,297.3 L386.5,296.5 L387.9,295.7 L389.2,294.9 L390.5,294.2 L391.9,293.5 L393.2,292.9 L394.6,292.2 L396.0,291.7 L397.4,291.1 L398.8,290.5 L400.2,290.0 L401.6,289.6 L403.0,289.1 L404.4,288.7 L405.9,288.3 L407.3,287.9 L408.8,287.5 L410.2,287.2 L411.7,286.8 L413.2,286.5 L414.7,286.2 L416.1,286.0 L417.6,285.7 L419.1,285.5 L420.6,285.3 L422.1,285.0 L423.6,284.8 L425.1,284.7 L426.6,284.5 L428.1,284.3 L429.6,284.2 L431.1,284.0 L432.6,283.9 L434.1,283.8 L435.6,283.6 L437.1,283.5 L438.7,283.4 L440.2,283.3 L441.7,283.2 L443.2,283.1 L444.7,283.1 L446.2,283.0 L447.7,282.9 L449.2,282.9 L450.7,282.9 L452.2,282.8 L453.7,282.8 L455.2,282.8 L456.7,282.8 L458.2,282.8 L459.7,282.8 L461.3,282.9 L462.8,282.9 L464.3,283.0 L465.8,283.0 L467.3,283.1 L468.8,283.2 L470.3,283.3 L471.8,283.4 L473.3,283.5 L474.8,283.6 L476.2,283.7 L477.7,283.9 L479.2,284.0 L480.7,284.2 L482.2,284.4 L483.7,284.6 L485.2,284.8 L486.7,285.0 L488.2,285.2 L489.6,285.4 L491.1,285.7 L492.6,285.9 L494.1,286.2 L495.5,286.5 L497.0,286.8 L498.5,287.1 L500.0,287.4 L501.4,287.8 L502.9,288.1 L504.3,288.5 L505.8,288.8 L507.3,289.2 L508.7,289.6 L510.2,290.0 L511.6,290.5 L513.1,290.9 L514.5,291.4 L515.9,291.8 L517.4,292.3 L518.8,292.8 L520.2,293.4 L521.6,293.9 L523.0,294.5 L524.4,295.1 L525.8,295.7 L527.2,296.3 L528.6,297.0 L529.9,297.6 L531.3,298.4 L532.6,299.1 L533.9,299.9 L535.2,300.7 L536.5,301.5 L537.8,302.3 L539.0,303.2 L540.3,304.1 L541.5,305.0 L542.7,306.0 L543.9,307.0 L545.1,308.0 L546.2,309.0 L547.3,310.1 L548.4,311.1 L549.5,312.2 L550.5,313.4 L551.5,314.5 L552.5,315.7 L553.4,316.8 L554.4,318.0 L555.2,319.2 L556.1,320.5 L556.9,321.7 L557.7,323.0 L558.5,324.2 L559.2,325.5 L559.9,326.8 L560.6,328.1 L561.2,329.5 L561.8,330.8 L562.4,332.2 L563.0,333.5 L563.5,334.9 L564.0,336.3 L564.5,337.7 L564.9,339.1 L565.4,340.5 L565.8,342.0 L566.2,343.4 L566.5,344.9 L566.8,346.3 L567.2,347.8 L567.5,349.3 L567.7,350.7 L568.0,352.2 L568.2,353.7 L568.4,355.2 L568.6,356.7 L568.8,358.2 L569.0,359.7 L569.1,361.2 L569.3,362.8 L569.4,364.3 L569.5,365.8 L569.6,367.3 L569.7,368.8 L569.7,370.4 L569.8,371.9 L569.8,373.4 L569.9,374.9 L569.9,376.4 L569.9,378.0 L569.9,379.5 L569.9,381.0 L569.9,382.5 L569.9,384.0 L569.8,385.5 L569.8,387.0 L569.7,388.5 L569.7,390.0 L569.6,391.5 L569.5,393.0 L569.5,394.5 L569.4,396.0 L569.3,397.5 L569.1,399.0 L569.0,400.5 L568.9,402.0 L568.7,403.5 L568.6,405.0 L568.4,406.5 L568.2,408.0 L568.0,409.5 L567.8,411.0 L567.6,412.5 L567.4,414.0 L567.1,415.5 L566.9,417.0 L566.6,418.5 L566.3,420.0 L566.1,421.5 L565.7,423.0 L565.4,424.5 L565.1,425.9 L564.7,427.4 L564.4,428.9 L564.0,430.4 L563.6,431.9 L563.1,433.3 L562.7,434.8 L562.2,436.2 L561.7,437.7 L561.2,439.1 L560.6,440.5 L560.1,441.8 L559.5,443.2 L558.8,444.5 L558.2,445.8 L557.5,447.1 L556.7,448.4 L556.0,449.6 L555.2,450.8 L554.4,452.0 L553.5,453.2 L552.6,454.3 L551.7,455.4 L550.7,456.4 L549.7,457.5 L548.6,458.4 L547.5,459.4 L546.4,460.3 L545.3,461.2 L544.1,462.0 L542.8,462.8 L541.6,463.6 L540.3,464.4 L539.0,465.1 L537.7,465.8 L536.3,466.5 L534.9,467.2 L533.5,467.8 L532.1,468.4 L530.7,469.0 L529.2,469.5 L527.7,470.1 L526.3,470.6 L524.8,471.1 L523.2,471.6 L521.7,472.1 L520.2,472.5 L518.7,473.0 L517.1,473.4 L515.6,473.8 L514.1,474.2 L512.5,474.6 L511.0,474.9 L509.4,475.3 L507.9,475.7 L506.4,476.0 L504.9,476.4 L503.4,476.7 L501.9,477.0 L500.4,477.3 L498.9,477.7 L497.4,478.0 L496.0,478.3 L494.5,478.6 L493.1,478.9 L491.6,479.2 L490.2,479.5 L488.8,479.8 L487.3,480.0 L485.9,480.3 L484.5,480.5 L483.0,480.7 L481.6,480.9 L480.2,481.1 L478.7,481.3 L477.2,481.5 L475.8,481.6 L474.3,481.7 L472.8,481.8 L471.3,481.9 L469.7,481.9 L468.2,481.9 L466.6,481.9 L465.0,481.9"/>
<path d="M436.3,170.8 L440.5,212.4"/>
<path d="M484.5,170.8 L481.0,212.2"/>
<path d="M436.4,171.6 A24.05,7.4 0 0 0 484.5,171.6"/>
<path d="M440.5,211.3 A20.25,4.4 0 0 0 481,211.3"/>
<path d="M450.4,215.5 V241 C449.5,249 454,253.7 460.5,253.7 C467,253.7 472,249 470.8,241 V215.5" fill="#fff"/>
<path d="M382.9,257.5 L382.9,258.9 L382.9,260.2 L383.1,261.5 L383.3,262.6 L383.7,263.8 L384.1,264.8 L384.6,265.8 L385.1,266.8 L385.8,267.6 L386.5,268.4 L387.2,269.2 L388.0,269.8 L388.9,270.4 L389.8,270.9 L390.7,271.4 L391.7,271.8 L392.7,272.1 L393.7,272.4 L394.8,272.5 L395.9,272.6 L396.9,272.7 L398.0,272.6 L399.1,272.5 L400.2,272.3 L401.3,272.1 L402.3,271.7 L403.4,271.3 L404.4,270.9 L405.4,270.3 L406.4,269.7 L407.4,269.1 L408.3,268.4 L409.2,267.7 L410.1,266.9 L411.0,266.1 L411.8,265.2 L412.5,264.3 L413.2,263.3 L413.9,262.4 L414.5,261.4 L415.1,260.4 L415.6,259.3 L416.0,258.3 L416.4,257.2 L416.7,256.2 L416.9,255.1 L417.1,254.0 L417.2,252.9 L417.2,251.8 L417.2,250.8 L417.0,249.7 L416.8,248.6 L416.5,247.6 L416.1,246.6 L415.6,245.6 L415.0,244.6 L414.3,243.7 L413.5,242.8 L412.6,241.9 Z" fill="#fff" stroke-width="2.6"/>
<ellipse cx="397.6" cy="250.3" rx="16.9" ry="9.3" transform="rotate(-35.5 397.6 250.3)" fill="#fff" stroke-width="2.6"/>
<path d="M504.7,251.4 L504.9,250.6 L505.4,249.8 L506.2,249.1 L507.0,248.4 L508.1,247.8 L509.1,247.4 L510.3,247.0 L511.4,246.9 L512.4,246.9 L513.5,247.0 L514.5,247.2 L515.6,247.6 L516.6,248.0 L517.6,248.4 L518.6,248.9 L519.7,249.4 L520.7,249.9 L521.7,250.3 L522.8,250.7 L523.9,251.1 L524.9,251.5 L526.0,251.8 L527.1,252.2 L528.2,252.5 L529.2,252.8 L530.3,253.2 L531.3,253.6 L532.3,254.0 L533.3,254.4 L534.3,254.9 L535.2,255.5 L536.1,256.1 L537.0,256.7 L537.8,257.4 L538.6,258.2 L539.3,259.1 L540.0,260.0 L540.5,261.0 L540.8,261.9 L541.0,262.8 L540.9,263.6 L540.6,264.4 L540.0,265.1 L539.1,265.6 L538.1,266.0 L537.0,266.2 L535.9,266.2 L534.7,266.0 L533.5,265.6 L532.3,265.2 L531.2,264.7 L530.0,264.2 L528.9,263.7 L527.9,263.2 L526.9,262.8 L525.9,262.4 L524.9,262.1 L524.0,261.7 L523.1,261.4 L522.1,261.1 L521.2,260.8 L520.3,260.4 L519.3,260.1 L518.4,259.8 L517.4,259.4 L516.3,259.0 L515.3,258.6 L514.2,258.2 L513.0,257.8 L511.8,257.3 L510.6,256.7 L509.4,256.2 L508.3,255.6 L507.2,254.9 L506.3,254.3 L505.6,253.6 L505.0,252.9 L504.7,252.1 L504.7,251.4 Z" fill="#fff"/>
<path d="M550.6,269.6 L555,273.2" stroke-width="5.6"/>
<path d="M343.1,40.2 L401.8,250.8" stroke-width="2.05"/>
<path d="M343.3,149.4 L401.8,250.8" stroke-width="2.05"/>
<path d="M192.9,409.3 L401.8,250.8" stroke-width="2"/>
<path d="M650.3,182 L593.7,182 L519,253.5" stroke-width="2" stroke-linecap="butt"/>
<path d="M555.6,270 L651.8,270" stroke-width="2" stroke-linecap="butt"/>
</g>
<text x="5.71" y="37.0" textLength="306.00" lengthAdjust="spacing" transform="scale(1.050,1)">Volume Down/Previous Song</text>
<text x="56.57" y="62.7" textLength="253.43" lengthAdjust="spacing" transform="scale(1.050,1)">(Anticlockwise rotation)</text>
<text x="64.76" y="145.4" textLength="246.57" lengthAdjust="spacing" transform="scale(1.050,1)">Volume UP/Next Song</text>
<text x="88.48" y="170.7" textLength="221.71" lengthAdjust="spacing" transform="scale(1.050,1)">(clockwise rotation)</text>
<text x="636.19" y="187.9" textLength="130.48" lengthAdjust="spacing" transform="scale(1.050,1)">ANC Button</text>
<text x="634.57" y="279.2" textLength="221.43" lengthAdjust="spacing" transform="scale(1.050,1)">Bluetooth/ANC LED</text>
<text x="634.86" y="304.0" textLength="155.90" lengthAdjust="spacing" transform="scale(1.050,1)">indicator light</text>
<text x="52.38" y="442.9" textLength="246.00" lengthAdjust="spacing" transform="scale(1.050,1)">Multi–function Button</text>
</svg>
</body></html>
